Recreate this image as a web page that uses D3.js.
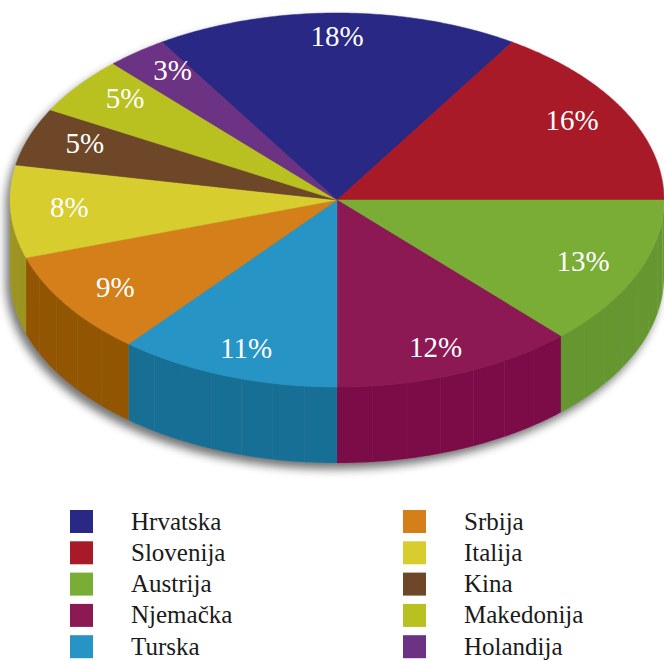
<!DOCTYPE html>
<html>
<head>
<meta charset="utf-8">
<script src="https://cdn.jsdelivr.net/npm/d3@7"></script>
</head>
<body style="margin:0">
<script>
// Data
var countries = ["Hrvatska", "Slovenija", "Austrija", "Njemačka", "Turska",
                 "Srbija", "Italija", "Kina", "Makedonija", "Holandija"];
var shares = [18, 16, 13, 12, 11, 9, 8, 5, 5, 3];
var topColors = ["#292884", "#a81a28", "#7aad36", "#8c1854", "#2695c6",
                 "#d47f1a", "#d7cd2e", "#6d4727", "#b8c120", "#6c3385"];
var sideColors = ["#1c1b5e", "#7a121c", "#66962f", "#7b0c48", "#186f96",
                  "#925603", "#9b9422", "#4d321b", "#868c17", "#4c245e"];

var W = 664, H = 661;
var cx = 337, cy = 200, rx = 327, ry = 187, depth = 76;
var toRad = Math.PI / 180;

var svg = d3.select("body")
  .append("svg")
    .attr("width", W)
    .attr("height", H)
    .style("font-family", "Liberation Serif");

var defs = svg.append("defs");
defs.append("filter")
    .attr("id", "shadow")
    .attr("x", "-20%").attr("y", "-20%")
    .attr("width", "140%").attr("height", "140%")
  .append("feGaussianBlur")
    .attr("stdDeviation", 5);

// pie layout, angles measured clockwise from the top
var slices = d3.pie()
    .sort(null)
    .value(function (d) { return d; })
    .startAngle(-32.4 * toRad)
    .endAngle(327.6 * toRad)(shares);

function px(t) { return cx + rx * Math.sin(t); }
function py(t) { return cy - ry * Math.cos(t); }

function arcPoints(a0, a1, dy) {
  var n = Math.max(2, Math.ceil((a1 - a0) / (0.5 * toRad)));
  var pts = [];
  for (var i = 0; i <= n; i++) {
    var t = a0 + (a1 - a0) * i / n;
    pts.push([px(t), py(t) + (dy || 0)]);
  }
  return pts;
}

var line = d3.line();

// drop shadow under the pie
var shadowPts = arcPoints(90 * toRad, 270 * toRad, depth)
  .concat(arcPoints(270 * toRad, 450 * toRad, 0));
svg.append("path")
    .attr("d", line(shadowPts) + "Z")
    .attr("transform", "translate(-4,6)")
    .attr("fill", "#000")
    .attr("opacity", 0.55)
    .attr("filter", "url(#shadow)");

// side walls (only the front half is visible)
var sideG = svg.append("g");
slices.forEach(function (s, i) {
  var a0 = Math.max(s.startAngle, 90 * toRad);
  var a1 = Math.min(s.endAngle, 270 * toRad);
  if (a1 <= a0) return;
  var n = Math.max(1, Math.round((a1 - a0) / (6 * toRad)));
  for (var j = 0; j < n; j++) {
    var b0 = a0 + (a1 - a0) * j / n;
    var b1 = a0 + (a1 - a0) * (j + 1) / n;
    var upper = arcPoints(b0, b1, 0);
    var lower = arcPoints(b0, b1, depth).reverse();
    sideG.append("path")
        .attr("d", line(upper.concat(lower)) + "Z")
        .attr("fill", sideColors[i])
        .attr("stroke", d3.color(sideColors[i]).brighter(0.5))
        .attr("stroke-opacity", 0.3)
        .attr("stroke-width", 0.6);
  }
});

// top faces
svg.append("g")
  .selectAll("path")
  .data(slices)
  .enter()
  .append("path")
    .attr("d", function (s) {
      return line([[cx, cy]].concat(arcPoints(s.startAngle, s.endAngle, 0))) + "Z";
    })
    .attr("fill", function (s, i) { return topColors[i]; })
    .attr("stroke", function (s, i) { return topColors[i]; })
    .attr("stroke-width", 0.5);

// percentage labels
svg.append("g")
  .selectAll("text")
  .data(slices)
  .enter()
  .append("text")
    .attr("x", function (s) { return cx + 0.82 * rx * Math.sin((s.startAngle + s.endAngle) / 2); })
    .attr("y", function (s) { return cy - 0.86 * ry * Math.cos((s.startAngle + s.endAngle) / 2) + 7; })
    .attr("text-anchor", "middle")
    .attr("fill", "#fff")
    .attr("font-family", "Liberation Serif")
    .attr("font-size", 29)
    .text(function (s) { return s.data + "%"; });

// legend, two columns of five
var legend = svg.append("g")
  .selectAll("g")
  .data(countries)
  .enter()
  .append("g")
    .attr("transform", function (d, i) {
      var col = Math.floor(i / 5), row = i % 5;
      return "translate(" + (70 + col * 333) + "," + (510 + row * 31.3) + ")";
    });

legend.append("rect")
    .attr("width", 23)
    .attr("height", 23)
    .attr("fill", function (d, i) { return topColors[i]; });

legend.append("text")
    .attr("x", 61)
    .attr("y", 19.5)
    .attr("fill", "#1a1a1a")
    .attr("font-family", "Liberation Serif")
    .attr("font-size", 25)
    .text(function (d) { return d; });
</script>
</body>
</html>
